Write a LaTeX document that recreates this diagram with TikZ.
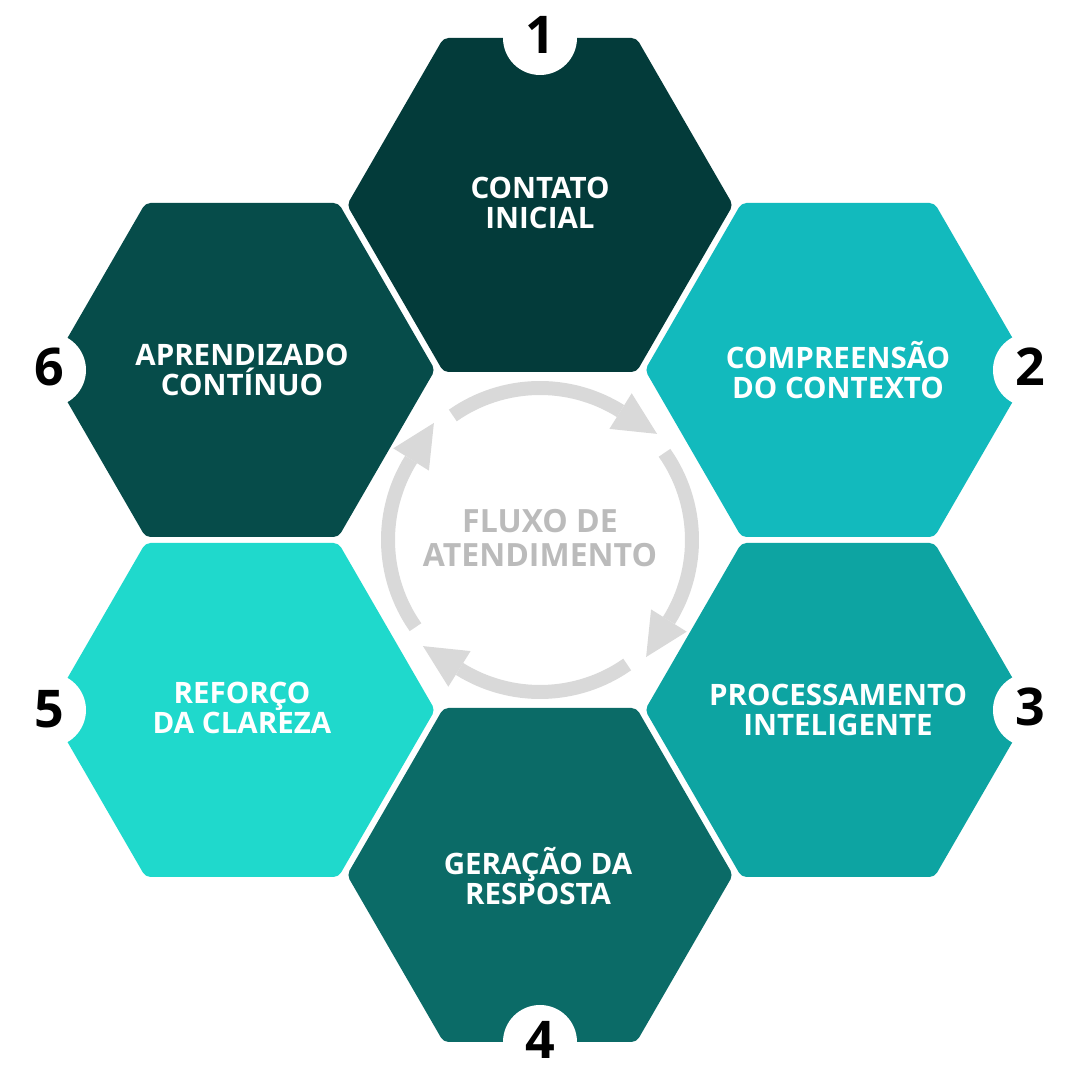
\documentclass[tikz,border=0pt]{standalone}
\usepackage{fontspec}
\setmainfont{Open Sans}
\usetikzlibrary{calc}
\definecolor{hexA}{HTML}{033B3A}
\definecolor{hexB}{HTML}{12BABD}
\definecolor{hexC}{HTML}{0DA4A2}
\definecolor{hexD}{HTML}{0B6B67}
\definecolor{hexE}{HTML}{1FD9CC}
\definecolor{hexF}{HTML}{064C4A}
\definecolor{arrowgray}{HTML}{D9D9D9}
\definecolor{textgray}{HTML}{BBBBBB}
\tikzset{
  hexlabel/.style={text=white, align=center, inner sep=0pt,
    font=\fontsize{29.5}{29.5}\selectfont\bfseries},
  numlabel/.style={text=black, inner sep=0pt,
    font=\fontsize{52}{52}\selectfont\bfseries},
  numdisc/.style={fill=white},
  ringarc/.style={draw=arrowgray, line width=14pt, line cap=butt},
  ringhead/.style={fill=arrowgray},
  centerlabel/.style={text=textgray, align=center, inner sep=0pt,
    font=\fontsize{32}{34}\selectfont\bfseries}
}
\begin{document}
\begin{tikzpicture}[x=1pt,y=1pt]
\useasboundingbox (0,0) rectangle (1080,1080);
\fill[white] (0,0) rectangle (1080,1080);
% hexagons
\foreach \cx/\cy/\col in {540/875/hexA, 838/710/hexB, 838/370/hexC, 540/205/hexD, 242/370/hexE, 242/710/hexF}{
  \fill[\col, rounded corners=5pt] (\cx,\cy+167) -- (\cx-96.5,\cy+167) -- (\cx-193,\cy) -- (\cx-96.5,\cy-167)
    -- (\cx+96.5,\cy-167) -- (\cx+193,\cy) -- (\cx+96.5,\cy+167) -- cycle;
}
% number discs
\foreach \px/\py in {540/1042, 1030/710, 1030/370, 540/38, 49/370, 49/710}{
  \fill[numdisc] (\px,\py) circle (37);
}
\node[numlabel] (n1) at (540,1045) {1};
\node[numlabel] (n2) at (1030,713) {2};
\node[numlabel] (n3) at (1030,373) {3};
\node[numlabel] (n4) at (540,40) {4};
\node[numlabel] (n5) at (49,371) {5};
\node[numlabel] (n6) at (49,713) {6};
% hex labels
\node[hexlabel] (t1) at (540,877) {CONTATO\\INICIAL};
\node[hexlabel] (t2) at (838,710) {COMPREENSÃO\\DO CONTEXTO};
\node[hexlabel] (t3) at (838,370) {PROCESSAMENTO\\INTELIGENTE};
\node[hexlabel] (t4) at (538,204) {GERAÇÃO DA\\RESPOSTA};
\node[hexlabel] (t5) at (242,372) {REFORÇO\\DA CLAREZA};
\node[hexlabel] (t6) at (242,710) {APRENDIZADO\\CONTÍNUO};
% ring of arrows
\coordinate (ctr) at (540,540);
\foreach \a in {125,35,-55,-145}{
  \pgfmathsetmacro{\b}{\a-67}
  \pgfmathsetmacro{\t}{\b-90}
  \draw[ringarc] ($(ctr)+(\a:152)$) arc[start angle=\a, end angle=\b, radius=152];
  \fill[ringhead] ($(ctr)+(\b:131)$) -- ($(ctr)+(\b:173)$) -- ($(ctr)+(\b:152)+(\t:43)$) -- cycle;
}
\node[centerlabel] (center) at (540,542) {FLUXO DE\\ATENDIMENTO};
\end{tikzpicture}
\end{document}
